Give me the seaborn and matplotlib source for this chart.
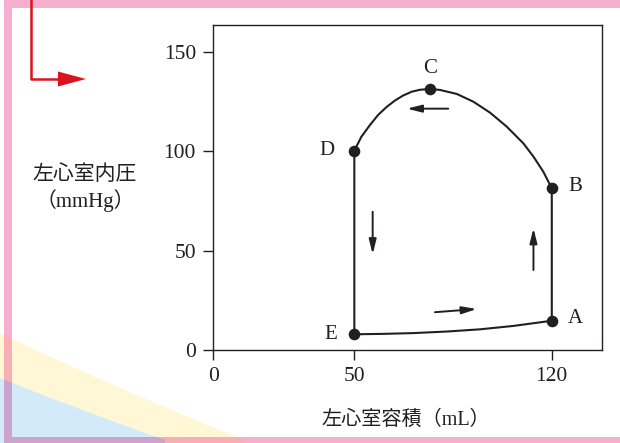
import numpy as np
import matplotlib
matplotlib.use("Agg")
import matplotlib.pyplot as plt
from matplotlib.patches import Rectangle, Polygon
from matplotlib.lines import Line2D
import seaborn as sns

# P-V loop: E -> A -> B -> C -> D -> E
fill_vol = [50, 60, 71, 83, 94.6, 106.4, 120]
fill_p = [7.9, 8.1, 8.5, 9.3, 10.4, 12.1, 14.7]
eject_vol = [120, 117.0, 113.5, 109.9, 104.0, 98.1, 92.2, 86.3, 80.4, 76.9,
             73.3, 70.3, 67.3, 64.4, 61.4, 58.4, 55.5, 52.5, 50]
eject_p = [81.3, 89.6, 97.2, 103.9, 112.3, 119.3, 124.8, 128.7, 130.7, 131.2,
           130.8, 129.8, 127.9, 125.4, 122.1, 118.1, 113.0, 107.2, 100.2]

point_labels = ["A", "B", "C", "D", "E"]
point_vol = [120, 120, 76.9, 50, 50]
point_p = [14.7, 81.3, 131.2, 100.2, 7.9]

# direction arrows (tail -> tip)
arrow_tail_vol = [83.3, 56.5, 113.5, 78.6]
arrow_tail_p = [121.3, 69.5, 40.2, 19.0]
arrow_tip_vol = [68.6, 56.5, 113.5, 93.4]
arrow_tip_p = [121.3, 48.1, 61.2, 20.6]

x_ticks = [0, 50, 120]
y_ticks = [0, 50, 100, 150]

ink = "#231f20"
pink = "#f5b0cf"

sns.set_theme(style="ticks")
plt.rcParams["font.family"] = ["Liberation Serif", "Noto Sans CJK JP"]

W, H = 620, 443
fig = plt.figure(figsize=(6.2, 4.43), dpi=100)
fig.patch.set_facecolor("white")

def fx(px):
    return px / W

def fy(py):
    return 1 - py / H

# background decoration: waves in the bottom-left corner
yellow_edge = [(0, 333), (40, 352), (80, 370), (120, 388), (160, 405), (200, 422), (245, 440)]
blue_edge = [(0, 378), (40, 394), (80, 409), (120, 424), (165, 440)]
yellow_poly = Polygon([(fx(a), fy(b)) for a, b in yellow_edge + [(245, 443), (0, 443)]],
                      closed=True, transform=fig.transFigure, facecolor="#fff7d6",
                      edgecolor="none", zorder=0)
blue_poly = Polygon([(fx(a), fy(b)) for a, b in blue_edge + [(165, 443), (0, 443)]],
                    closed=True, transform=fig.transFigure, facecolor="#d3ebf8",
                    edgecolor="none", zorder=0)
fig.patches.extend([yellow_poly, blue_poly])

# pink frame bands
bands = [(4, 0, W - 4, 7.5), (4, 0, 8, H), (4, 437, W - 4, 6)]
for color, clip in [(pink, None), ("#f7aeb4", yellow_poly), ("#cba3cc", blue_poly)]:
    for bx, by, bw, bh in bands:
        r = Rectangle((fx(bx), fy(by + bh)), bw / W, bh / H, transform=fig.transFigure,
                      facecolor=color, edgecolor="none", zorder=0.5)
        fig.patches.append(r)
        if clip is not None:
            r.set_clip_path(clip)

# red pointer arrow top-left
red = "#d9141e"
fig.lines.append(Line2D([fx(30.7), fx(30.7), fx(60)], [fy(0), fy(79), fy(79)],
                        transform=fig.transFigure, color=red, lw=1.8, zorder=1))
fig.patches.append(Polygon([(fx(58), fy(71.5)), (fx(86), fy(79)), (fx(58), fy(86.5))],
                           closed=True, transform=fig.transFigure, facecolor=red,
                           edgecolor="none", zorder=1))

ax = fig.add_axes([fx(213.3), fy(350), (602 - 213.3) / W, (350 - 24.5) / H])
ax.set_facecolor("none")

loop_vol = fill_vol + eject_vol + [fill_vol[0]]
loop_p = fill_p + eject_p + [fill_p[0]]
sns.lineplot(x=loop_vol, y=loop_p, sort=False, estimator=None, color=ink,
             linewidth=1.5, ax=ax)
sns.scatterplot(x=point_vol, y=point_p, color=ink, s=70, edgecolor=ink,
                linewidth=0, zorder=3, ax=ax)

offsets = {"A": (17, 1.5), "B": (17, 1), "C": (0, 15), "D": (-19.5, 0), "E": (-17, 0)}
for lab, vx, vp in zip(point_labels, point_vol, point_p):
    ax.annotate(lab, (vx, vp), xytext=offsets[lab], textcoords="offset points",
                ha="center", va="center", fontsize=15, color=ink)

for tx, tp, hx, hp in zip(arrow_tail_vol, arrow_tail_p, arrow_tip_vol, arrow_tip_p):
    ax.annotate("", xy=(hx, hp), xytext=(tx, tp),
                arrowprops=dict(arrowstyle="-|>,head_length=0.8,head_width=0.2",
                                color=ink, lw=1.4, mutation_scale=11,
                                shrinkA=0, shrinkB=0))

ax.set_xlim(0, 137.8)
ax.set_ylim(0, 163.6)
ax.set_xticks(x_ticks)
ax.set_yticks(y_ticks)
ax.tick_params(direction="out", length=7.5, width=1, color=ink, labelcolor=ink,
               labelsize=15.5, pad=5)
for sp in ax.spines.values():
    sp.set_visible(True)
    sp.set_color(ink)
    sp.set_linewidth(1)
ax.set_xlabel("")
ax.set_ylabel("")

fig.text(fx(406), fy(420), "左心室容積（mL）", ha="center", va="center",
         fontsize=14.5, color=ink)
fig.text(fx(85), fy(175), "左心室内圧", ha="center", va="center",
         fontsize=15, color=ink)
fig.text(fx(85), fy(201), "（mmHg）", ha="center", va="center",
         fontsize=15, color=ink)

fig.savefig("out.png", dpi=100)
